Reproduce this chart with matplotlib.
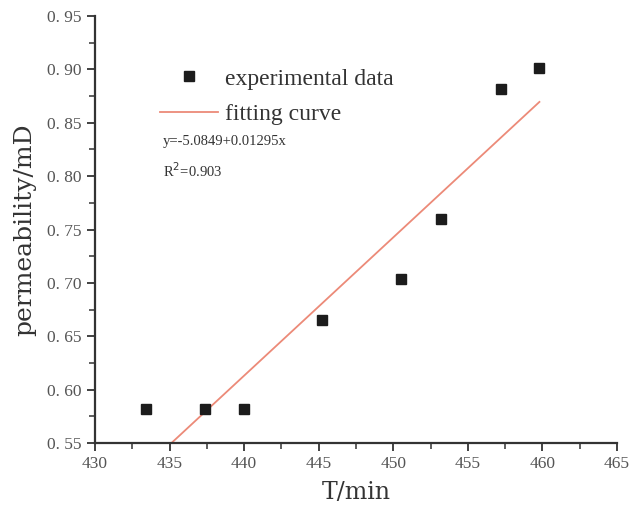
"""Permeability vs time with linear fit."""
import numpy as np
import matplotlib
matplotlib.use("Agg")
import matplotlib.pyplot as plt
from matplotlib.ticker import MultipleLocator

# measured points
t_min = [433.4, 437.4, 440.0, 445.2, 450.5, 453.2, 457.2, 459.8]
perm_md = [0.582, 0.582, 0.582, 0.665, 0.704, 0.760, 0.882, 0.901]

# linear fit y = a + b x
fit_a = -5.0849
fit_b = 0.01295
fit_r2 = 0.903

x_ticks = [430, 435, 440, 445, 450, 455, 460, 465]
y_ticks = [0.55, 0.60, 0.65, 0.70, 0.75, 0.80, 0.85, 0.90, 0.95]
y_tick_labels = ["0. 55", "0. 60", "0. 65", "0. 70", "0. 75", "0. 80", "0. 85", "0. 90", "0. 95"]

plt.rcParams["font.family"] = ["Liberation Serif", "DejaVu Serif"]

fig = plt.figure(figsize=(6.35, 5.21), dpi=100)
ax = fig.add_axes([0.1496, 0.1497, 0.822, 0.8196])

fit_x = np.array([t_min[0], t_min[-1]])
fit_y = fit_a + fit_b * fit_x
ax.plot(fit_x, fit_y, color="#ec8a78", linewidth=1.3, label="fitting curve", zorder=2)
ax.plot(t_min, perm_md, linestyle="none", marker="s", markersize=7.5,
        color="#1c1c1c", label="experimental data", zorder=3)

ax.set_xlim(430, 465)
ax.set_ylim(0.55, 0.95)
ax.set_xticks(x_ticks)
ax.set_yticks(y_ticks)
ax.set_yticklabels(y_tick_labels)
ax.xaxis.set_minor_locator(MultipleLocator(2.5))
ax.yaxis.set_minor_locator(MultipleLocator(0.025))
ax.tick_params(which="major", direction="out", length=6, width=1.3, labelsize=12.5,
               colors="#333333", labelcolor="#555555")
ax.tick_params(which="minor", direction="out", length=4, width=1.1, colors="#333333")

for side in ["top", "right"]:
    ax.spines[side].set_visible(False)
for side in ["left", "bottom"]:
    ax.spines[side].set_linewidth(1.6)
    ax.spines[side].set_color("#333333")

ax.set_xlabel("T/min", fontsize=17, family="DejaVu Serif", color="#333333", labelpad=6)
ax.set_ylabel("permeability/mD", fontsize=18, family="DejaVu Serif", color="#333333", labelpad=8)

handles, labels = ax.get_legend_handles_labels()
leg = ax.legend(handles[::-1], labels[::-1], loc="upper left", bbox_to_anchor=(0.107, 0.9),
                frameon=False, fontsize=17, handlelength=2.45, handletextpad=0.3,
                labelspacing=0.58, borderaxespad=0)
for txt in leg.get_texts():
    txt.set_color("#333333")

ax.text(0.13, 0.706, "y=-5.0849+0.01295x", transform=ax.transAxes, fontsize=10.5,
        color="#333333", ha="left", va="center")
ax.text(0.13, 0.637, f"R$^2$={fit_r2}", transform=ax.transAxes, fontsize=10.5,
        color="#333333", ha="left", va="center")

fig.savefig("out.png", dpi=100)
plt.close(fig)
